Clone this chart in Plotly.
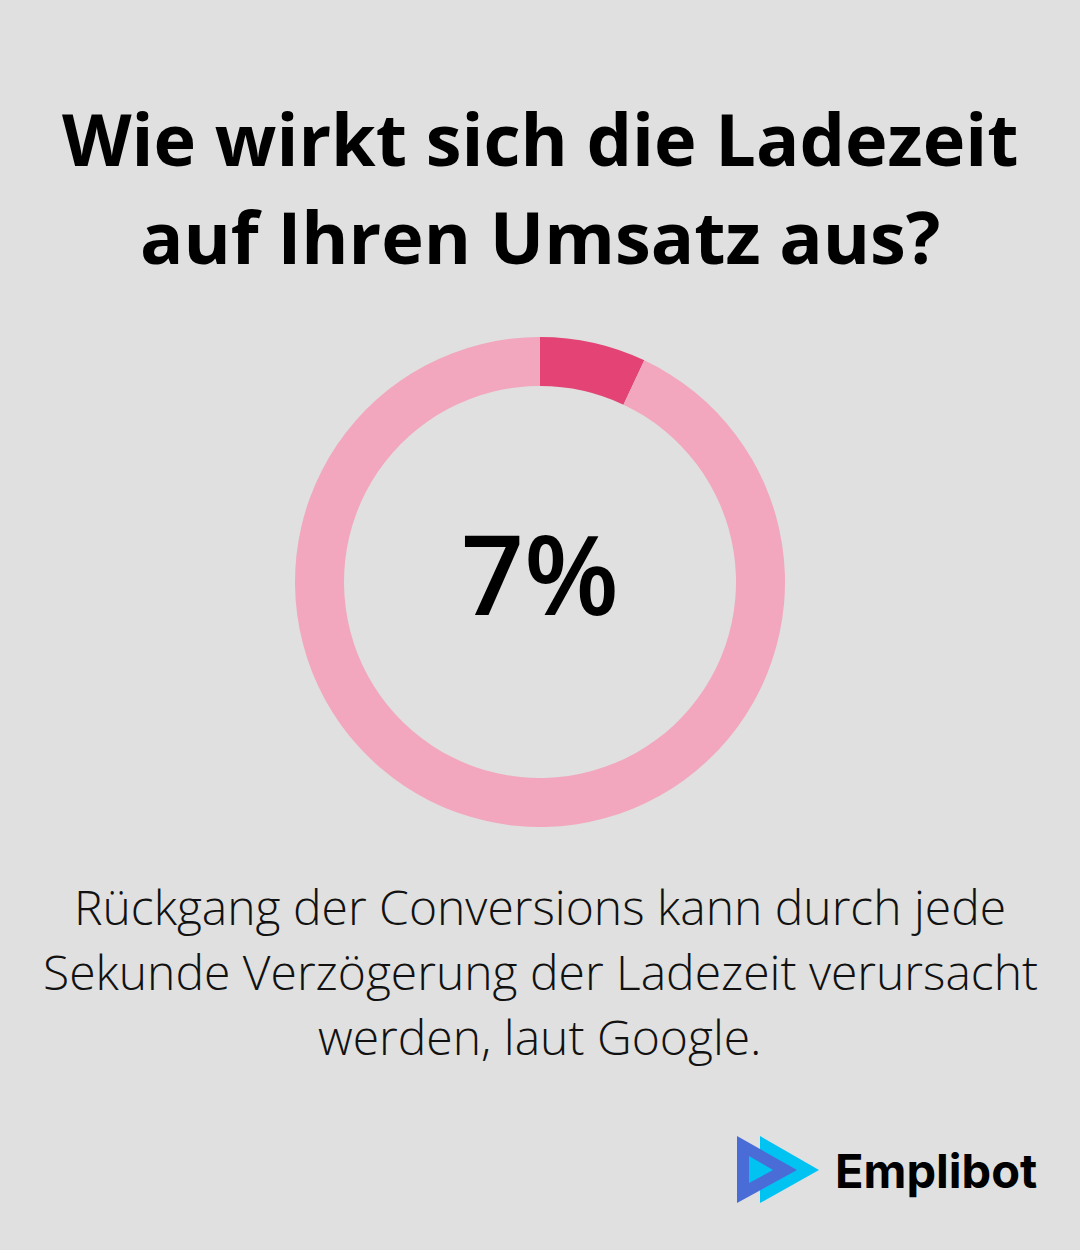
import plotly.graph_objects as go

W, H = 1080, 1250
BG = "#DFE0DF"

labels = ["Rückgang", "Rest"]
values = [7, 93]
colors = ["#E34475", "#F2A7BE"]

title_lines = ["Wie wirkt sich die Ladezeit", "auf Ihren Umsatz aus?"]
center_text = "7%"
body_lines = ["Rückgang der Conversions kann durch jede",
              "Sekunde Verzögerung der Ladezeit verursacht",
              "werden, laut Google."]
brand = "Emplibot"

fig = go.Figure()

cx, cy, r = 540, 582, 245
fig.add_trace(go.Pie(
    labels=labels, values=values, sort=False, direction="clockwise", rotation=0,
    hole=0.80, marker=dict(colors=colors, line=dict(width=0)),
    textinfo="none", hoverinfo="skip", showlegend=False,
    domain=dict(x=[(cx - r) / W, (cx + r) / W], y=[1 - (cy + r) / H, 1 - (cy - r) / H]),
))

fig.update_layout(
    width=W, height=H, margin=dict(l=0, r=0, t=0, b=0),
    paper_bgcolor=BG, plot_bgcolor=BG,
    xaxis=dict(range=[0, W], visible=False, fixedrange=True),
    yaxis=dict(range=[H, 0], visible=False, fixedrange=True),
    showlegend=False,
)

# Title
for i, line in enumerate(title_lines):
    fig.add_annotation(x=540, y=138 + i * 98, xref="x", yref="y", text=line, showarrow=False,
                       font=dict(family="Open Sans", size=72, color="#000000", weight="bold"),
                       xanchor="center", yanchor="middle")

# Center value
fig.add_annotation(x=540, y=572, xref="x", yref="y", text=center_text, showarrow=False,
                   font=dict(family="Open Sans", size=110, color="#000000", weight=600),
                   xanchor="center", yanchor="middle")

# Body text
for i, line in enumerate(body_lines):
    fig.add_annotation(x=540, y=906 + i * 65, xref="x", yref="y", text=line, showarrow=False,
                       font=dict(family="Open Sans", size=48, color="#111111", weight=300),
                       xanchor="center", yanchor="middle")

# Logo triangles
fig.add_shape(type="path", path="M 760 1136 L 819 1170 L 760 1203 Z", xref="x", yref="y",
              fillcolor="#00C3F2", line=dict(width=0))
fig.add_shape(type="path", path="M 737 1136 L 797 1170 L 737 1203 Z", xref="x", yref="y",
              fillcolor="#4A6CD6", line=dict(width=0))
fig.add_shape(type="path", path="M 749 1156 L 773 1170 L 749 1183 Z", xref="x", yref="y",
              fillcolor="#00C3F2", line=dict(width=0))
fig.add_annotation(x=833, y=1170, xref="x", yref="y", text=brand, showarrow=False,
                   font=dict(family="Inter", size=47, color="#000000", weight="bold"),
                   xanchor="left", yanchor="middle")

fig.write_html("out.html")
